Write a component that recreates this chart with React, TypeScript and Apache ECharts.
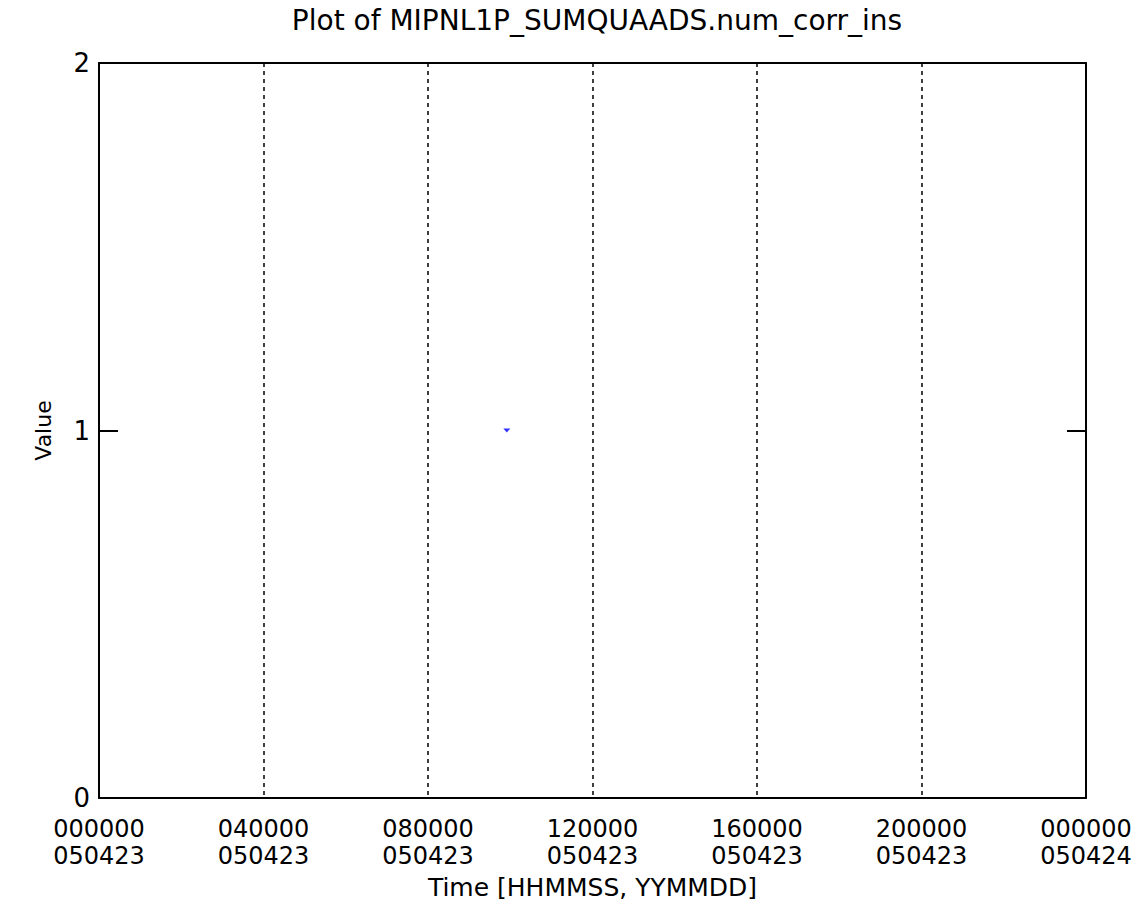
import React, { useEffect, useRef } from "react";
import * as echarts from "echarts";

const titleText = "Plot of MIPNL1P_SUMQUAADS.num_corr_ins";
const timeLabels = ["000000", "040000", "080000", "120000", "160000", "200000", "000000"];
const dateLabels = ["050423", "050423", "050423", "050423", "050423", "050423", "050424"];
const yTickLabels = ["0", "1", "2"];
// seconds since 2005-04-23 00:00:00, value
const pointTimes = [35700];
const pointValues = [1];

const FONT = "DejaVu Sans";

export default function App() {
  const ref = useRef<HTMLDivElement>(null);
  useEffect(() => {
    if (!ref.current) return;
    const chart = echarts.init(ref.current, undefined, { renderer: "svg" });
    const solid = { show: true, onZero: false, lineStyle: { color: "#000", width: 2 } };
    chart.setOption({
      animation: false,
      backgroundColor: "#ffffff",
      title: {
        text: titleText,
        left: 592,
        textAlign: "center",
        top: 1,
        textStyle: { fontFamily: FONT, fontSize: 28, fontWeight: "normal", color: "#000" },
      },
      grid: { left: 99, right: 58, top: 63, bottom: 124, show: false },
      xAxis: [
        {
          type: "value",
          min: 0,
          max: 86400,
          interval: 14400,
          position: "bottom",
          name: "Time [HHMMSS, YYMMDD]",
          nameLocation: "middle",
          nameGap: 77,
          nameTextStyle: { fontFamily: FONT, fontSize: 25, color: "#000" },
          axisLine: solid,
          axisTick: { show: false },
          splitLine: {
            show: true,
            showMinLine: false,
            showMaxLine: false,
            lineStyle: { color: "#000", width: 1.5, type: [4, 4] },
          },
          axisLabel: {
            fontFamily: FONT,
            fontSize: 24,
            color: "#000",
            lineHeight: 27,
            margin: 17,
            formatter: (v: number) => {
              const i = Math.round(v / 14400);
              return timeLabels[i] + "\n" + dateLabels[i];
            },
          },
        },
        {
          type: "value",
          min: 0,
          max: 86400,
          position: "top",
          axisLine: solid,
          axisTick: { show: false },
          axisLabel: { show: false },
          splitLine: { show: false },
        },
      ],
      yAxis: [
        {
          type: "value",
          min: 0,
          max: 2,
          interval: 1,
          position: "left",
          name: "Value",
          nameLocation: "middle",
          nameGap: 45,
          nameTextStyle: { fontFamily: FONT, fontSize: 22, color: "#000" },
          axisLine: solid,
          axisTick: { show: true, inside: true, length: 19, lineStyle: { color: "#000", width: 2 } },
          splitLine: { show: false },
          axisLabel: {
            fontFamily: FONT,
            fontSize: 26,
            color: "#000",
            margin: 9,
            formatter: (v: number) => yTickLabels[Math.round(v)],
          },
        },
        {
          type: "value",
          min: 0,
          max: 2,
          interval: 1,
          position: "right",
          axisLine: solid,
          axisTick: { show: true, inside: true, length: 19, lineStyle: { color: "#000", width: 2 } },
          splitLine: { show: false },
          axisLabel: { show: false },
        },
      ],
      series: [
        {
          type: "scatter",
          xAxisIndex: 0,
          yAxisIndex: 0,
          data: pointTimes.map((t, i) => [t, pointValues[i]]),
          symbol: "triangle",
          symbolRotate: 180,
          symbolSize: [7, 4],
          itemStyle: { color: "#0000ff" },
        },
      ],
    });
    return () => chart.dispose();
  }, []);
  return <div ref={ref} style={{ width: 1144, height: 922, position: "absolute", left: 0, top: 0 }} />;
}
